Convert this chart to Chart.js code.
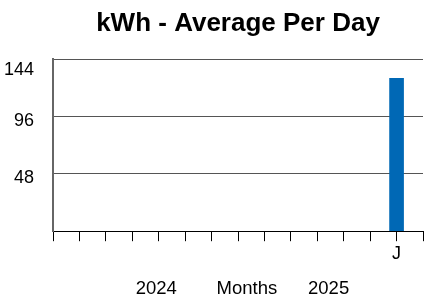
<!DOCTYPE html>
<html>
<head>
<meta charset="utf-8">
<script src="https://cdn.jsdelivr.net/npm/chart.js@4"></script>
<style>
  html, body { margin: 0; padding: 0; background: #fff; }
  #wrap { width: 425px; height: 301px; }
</style>
</head>
<body>
<div id="wrap"><canvas id="kwhChart"></canvas></div>
<script>
// Month slots along the axis, only the last filled one is labelled
const monthLabels = ['', '', '', '', '', '', '', '', '', '', '', '', '', 'J', ''];
const kwhPerDay = [null, null, null, null, null, null, null, null, null, null, null, null, null, 128, null];
const yTicks = [48, 96, 144];
const axisTitle = ' \u2009' + '2024       \u2009Months      2025';

const ctx = document.getElementById('kwhChart').getContext('2d');
new Chart(ctx, {
  type: 'bar',
  data: {
    labels: monthLabels,
    datasets: [{
      label: 'kWh',
      data: kwhPerDay,
      backgroundColor: '#0068B5',
      barThickness: 14
    }]
  },
  options: {
    responsive: true,
    maintainAspectRatio: false,
    animation: false,
    layout: { padding: { left: 4, right: 0, top: 8, bottom: 1 } },
    plugins: {
      legend: { display: false },
      tooltip: { enabled: false },
      title: {
        display: true,
        text: 'kWh - Average Per Day',
        fullSize: false,
        color: '#000',
        font: { family: 'Liberation Sans, Arial', size: 26, weight: 'bold' },
        padding: { top: 0, bottom: 20 }
      }
    },
    scales: {
      x: {
        type: 'category',
        offset: false,
        grid: { drawOnChartArea: false, offset: false, color: '#000', tickLength: 10 },
        border: { color: '#000' },
        ticks: {
          autoSkip: false, maxRotation: 0, color: '#000', padding: 2,
          font: { family: 'Liberation Sans, Arial', size: 18 }
        },
        title: {
          display: true,
          text: axisTitle,
          color: '#000',
          font: { family: 'Liberation Sans, Arial', size: 18.5 },
          padding: { top: 11, bottom: 0 }
        }
      },
      y: {
        min: 0,
        max: 144,
        afterBuildTicks: axis => { axis.ticks = [0].concat(yTicks).map(v => ({ value: v })); },
        afterFit: axis => { axis.width = 49; },
        grid: { drawTicks: false, color: '#555' },
        border: { color: '#666', width: 2 },
        ticks: {
          color: '#000', padding: 19, labelOffset: 4,
          font: ctx => ({
            family: 'Liberation Sans, Arial', size: 18,
            lineHeight: ctx.tick && ctx.tick.value === 144 ? 0.8 : 1.2
          }),
          callback: v => v === 0 ? '' : (v === 144 ? ['', String(v)] : v)
        }
      }
    }
  }
});
</script>
</body>
</html>
